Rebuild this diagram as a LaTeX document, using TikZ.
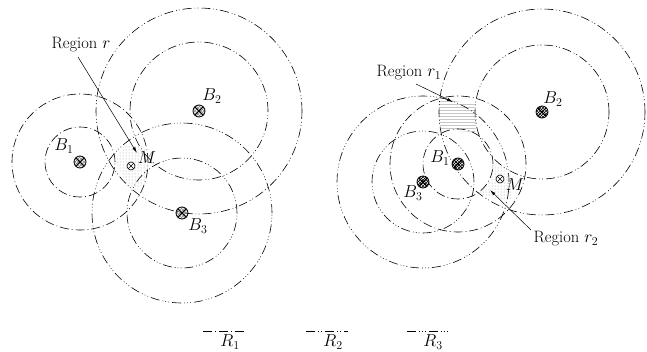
\documentclass[tikz,border=0pt]{standalone}
\usetikzlibrary{patterns,arrows.meta}
\begin{document}
\begin{tikzpicture}[x=1pt,y=-1pt,
  every node/.style={font=\fontsize{16.5}{18}\selectfont},
  Rone/.style={line width=0.6pt,dash pattern=on 9pt off 3pt on 0.8pt off 3pt},
  Rtwo/.style={line width=0.6pt,dash pattern=on 9pt off 3pt on 0.8pt off 2.2pt on 0.8pt off 3pt},
  Rthree/.style={line width=0.6pt,dash pattern=on 9pt off 3pt on 0.8pt off 2.2pt on 0.8pt off 2.2pt on 0.8pt off 3pt},
  crossmark/.style={path picture={\draw (path picture bounding box.north west)--(path picture bounding box.south east)
     (path picture bounding box.north east)--(path picture bounding box.south west);}},
  stationL/.style={circle,draw,line width=0.8pt,minimum size=12pt,inner sep=0pt,pattern=crosshatch,pattern color=gray,crossmark},
  stationR/.style={circle,draw,line width=0.8pt,minimum size=12pt,inner sep=0pt,pattern=crosshatch,pattern color=black,crossmark},
  mobile/.style={circle,draw,line width=0.6pt,minimum size=8pt,inner sep=0pt,fill=white,crossmark},
  region/.style={pattern=dots,pattern color=gray!80},
  regionh/.style={pattern=horizontal lines,pattern color=gray!45},
  lbl/.style={inner sep=1pt},
  arr/.style={-{Latex[length=6pt,width=3pt]},line width=0.5pt}]
\useasboundingbox (0,0) rectangle (647,351);
% ---------- left panel ----------
\coordinate (LB1) at (80,162);
\coordinate (LB2) at (199,111);
\coordinate (LB3) at (182,213);
\fill[region] (115,160) -- (123,147) -- (143,145) -- (150,160) -- (147,178) -- (137,190) -- (127,185) -- cycle;
\draw[Rone] (LB1) circle (35pt);
\draw[Rone] (LB1) circle (68pt);
\draw[Rtwo] (LB2) circle (69pt);
\draw[Rtwo] (LB2) circle (103pt);
\draw[Rthree] (LB3) circle (55pt);
\draw[Rthree] (LB3) circle (90pt);
\node[stationL] (B1) at (LB1) {};
\node[stationL] (B2) at (LB2) {};
\node[stationL] (B3) at (LB3) {};
\node[mobile] (M) at (131,166) {};
\node[lbl] (lB1) at (64,146) {$B_1$};
\node[lbl] (lB2) at (212,96) {$B_2$};
\node[lbl] (lB3) at (198,226) {$B_3$};
\node[lbl] (lM) at (147,158) {$M$};
\node[lbl] (tr) at (81,45) {Region $r$};
\coordinate (ar) at (137,153);
\draw[arr] (78,57) -- (ar);
% ---------- right panel ----------
\coordinate (RB1) at (458,164);
\coordinate (RB2) at (542,112);
\coordinate (RB3) at (423,182);
\fill[regionh] (440,100) -- (475,103) -- (477,118) -- (475,132) -- (441,130) -- (438,115) -- cycle;
\fill[region] (492,165) -- (505,168) -- (513,185) -- (512,200) -- (500,200) -- (478,193) -- (490,180) -- cycle;
\draw[Rone] (RB1) circle (35pt);
\draw[Rone] (RB1) circle (68pt);
\draw[Rtwo] (RB2) circle (67pt);
\draw[Rtwo] (RB2) circle (103pt);
\draw[Rthree] (RB3) circle (51pt);
\draw[Rthree] (RB3) circle (86pt);
\node[stationR] (C1) at (RB1) {};
\node[stationR] (C2) at (RB2) {};
\node[stationR] (C3) at (RB3) {};
\node[mobile] (N) at (500,179) {};
\node[lbl] (lC1) at (440,158) {$B_1$};
\node[lbl] (lC2) at (553,99) {$B_2$};
\node[lbl] (lC3) at (413,193) {$B_3$};
\node[lbl] (lN) at (515,185) {$M$};
\node[lbl] (tr1) at (409,73) {Region $r_1$};
\node[lbl] (tr2) at (566,239) {Region $r_2$};
\coordinate (ar1) at (453,102);
\coordinate (ar2) at (490,190);
\draw[arr] (416,84) -- (ar1);
\draw[arr] (531,230) -- (ar2);
% ---------- legend ----------
\coordinate (l1a) at (203,331); \coordinate (l1b) at (245,331);
\coordinate (l2a) at (306,331); \coordinate (l2b) at (348,331);
\coordinate (l3a) at (407,331); \coordinate (l3b) at (448,331);
\draw[Rone] (l1a) -- (l1b);
\draw[Rtwo] (l2a) -- (l2b);
\draw[Rthree] (l3a) -- (l3b);
\node[lbl] (L1) at (230,342) {$R_1$};
\node[lbl] (L2) at (333,342) {$R_2$};
\node[lbl] (L3) at (433,342) {$R_3$};
\end{tikzpicture}
\end{document}
